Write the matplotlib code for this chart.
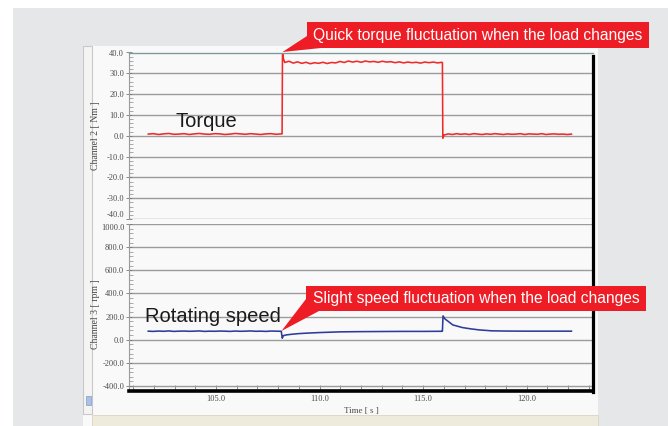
import numpy as np
import matplotlib
matplotlib.use("Agg")
import matplotlib.pyplot as plt
from matplotlib.patches import Rectangle, Polygon
from matplotlib.lines import Line2D
from matplotlib.ticker import MultipleLocator, FormatStrFormatter

# ---- data ----
# torque [Nm], three pieces: before the load, under load, after the load
torque_before_span = (101.73, 108.15)
torque_before = [0.8, 1.0, 0.6, 0.9, 1.1, 0.7, 0.8, 1.0, 0.6, 0.9, 1.1, 0.8, 0.7, 1.0,
                 0.9, 0.6, 0.8, 1.1, 0.9, 0.7, 1.0, 0.8, 0.6, 0.9, 1.0, 0.7, 0.9]
torque_step_t = [108.19, 108.21, 108.26]
torque_step = [0.9, 40.5, 36.8]
torque_load_span = (108.32, 115.90)
torque_load = [35.2, 35.8, 34.9, 35.5, 34.8, 35.3, 34.6, 35.1, 34.8, 35.3, 34.7, 35.2, 35.0,
               35.7, 35.2, 35.9, 35.4, 35.8, 35.3, 35.9, 35.5, 35.7, 35.3, 35.8, 35.4, 35.6,
               35.1, 35.5, 35.0, 35.4, 35.1, 35.3, 34.9, 35.4, 35.1, 35.4, 35.0, 35.3]
torque_drop_t = [115.93, 115.95]
torque_drop = [35.2, -1.2]
torque_after_span = (116.00, 122.16)
torque_after = [0.3, 0.9, 0.6, 1.0, 0.7, 0.9, 0.6, 1.0, 0.8, 0.6, 0.9, 0.7, 1.0, 0.8, 0.6, 0.9,
                0.7, 0.8, 1.0, 0.6, 0.9, 0.8, 0.7, 1.0, 0.6, 0.8, 0.9, 0.7, 0.8, 0.6, 0.8]

# rotating speed [rpm]
speed_before_span = (101.73, 108.15)
speed_before = [74, 72, 75, 73, 76, 72, 74, 75, 73, 74, 76, 72, 74, 73, 75, 74, 72, 75, 73,
                74, 76, 73, 74, 72, 75, 74, 73]
speed_rest_t = [108.2, 108.25, 108.4, 108.7, 109.0, 109.5, 110.0, 110.5, 111.0, 112.0, 113.0,
                114.0, 115.0, 115.9, 115.93, 115.96, 116.05, 116.2, 116.43, 116.9, 117.3,
                117.7, 118.3, 119.0, 120.0, 121.0, 122.16]
speed_rest = [13, 35, 42, 48, 53, 58, 62, 65, 68, 70, 71, 72, 72, 73, 74, 206, 180, 160, 128,
              105, 94, 85, 77, 75, 74, 74, 74]

xlim = (100.8, 123.2)
x_major = [105.0, 110.0, 115.0, 120.0]
torque_ticks = [40, 30, 20, 10, 0, -10, -20, -30, -40]
speed_ticks = [1000, 800, 600, 400, 200, 0, -200, -400]

torque_note = "Quick torque fluctuation when the load changes"
speed_note = "Slight speed fluctuation when the load changes"


def seg_time(span, vals):
    return np.linspace(span[0], span[1], len(vals))


torque_t = np.concatenate([seg_time(torque_before_span, torque_before), torque_step_t,
                           seg_time(torque_load_span, torque_load), torque_drop_t,
                           seg_time(torque_after_span, torque_after)])
torque_v = np.concatenate([torque_before, torque_step, torque_load, torque_drop, torque_after])
speed_t = np.concatenate([seg_time(speed_before_span, speed_before), speed_rest_t])
speed_v = np.concatenate([speed_before, speed_rest])

# ---- figure in pixel coordinates ----
W, H = 668, 426
fig = plt.figure(figsize=(W / 100, H / 100), dpi=100)
fig.patch.set_facecolor("white")


def px(x, y):
    return x / W, 1 - y / H


def rect(x0, y0, x1, y1, z=-10, **kw):
    fig.add_artist(Rectangle(px(x0, y1), (x1 - x0) / W, (y1 - y0) / H,
                             transform=fig.transFigure, zorder=z, **kw))


# page and screenshot background (kept under the axes)
rect(13, 8, 668, 426, facecolor="#e6e7e9", edgecolor="none")
rect(83, 46, 598, 426, facecolor="#f9f9f9", edgecolor="none")
rect(83, 46, 92, 414, facecolor="#f4f4f2", edgecolor="#c8c8c8", lw=0.8)
rect(86, 396, 91, 405, facecolor="#a9c1e3", edgecolor="#7f9cc8", lw=0.5)
rect(92, 415, 598, 426, facecolor="#efebdc", edgecolor="#d9d4c2", lw=0.6)

serif = "Liberation Serif"
tick_col = "#4a4a4a"

ax1 = fig.add_axes([129 / W, 1 - 219 / H, (593 - 129) / W, (219 - 52.5) / H])
ax2 = fig.add_axes([129 / W, 1 - 391 / H, (593 - 129) / W, (391 - 224) / H])

for ax in (ax1, ax2):
    ax.set_facecolor("none")
    ax.set_xlim(*xlim)
    ax.xaxis.set_major_locator(MultipleLocator(5))
    ax.xaxis.set_minor_locator(MultipleLocator(1))
    ax.yaxis.grid(True, color="#9c9c9c", lw=1.0)
    ax.set_axisbelow(True)
    ax.spines["left"].set_color("#9a9a9a")
    ax.spines["left"].set_linewidth(0.8)
    ax.spines["right"].set_visible(False)
    ax.tick_params(axis="y", which="major", direction="inout", length=5, width=0.6,
                   color="#777777", labelsize=6, labelcolor=tick_col, pad=1)
    ax.tick_params(axis="y", which="minor", direction="in", length=3, width=0.5, color="#888888")

ax1.plot(torque_t, torque_v, color="#ee2b2b", lw=1.15)
ax1.set_ylim(-40, 40)
ax1.set_yticks(torque_ticks)
ax1.yaxis.set_minor_locator(MultipleLocator(2))
ax1.yaxis.set_major_formatter(FormatStrFormatter("%.1f"))
ax1.spines["bottom"].set_visible(False)
ax1.spines["top"].set_color("#7f9a9a")
ax1.spines["top"].set_linewidth(1.0)
ax1.tick_params(axis="x", which="both", bottom=False, labelbottom=False)
ax1.set_ylabel("Channel 2 [ Nm ]", family=serif, fontsize=7, color=tick_col)

ax2.plot(speed_t, speed_v, color="#2d3c9c", lw=1.15)
ax2.set_ylim(-443, 1000)
ax2.set_yticks(speed_ticks)
ax2.yaxis.set_minor_locator(MultipleLocator(40))
ax2.yaxis.set_major_formatter(FormatStrFormatter("%.1f"))
ax2.spines["top"].set_visible(False)
ax2.spines["bottom"].set_color("black")
ax2.spines["bottom"].set_linewidth(2.6)
ax2.set_xticks(x_major)
ax2.xaxis.set_major_formatter(FormatStrFormatter("%.1f"))
ax2.tick_params(axis="x", which="both", direction="in", length=4, width=0.6,
                color="#777777", labelsize=6, labelcolor=tick_col, pad=3)
ax2.set_ylabel("Channel 3 [ rpm ]", family=serif, fontsize=7, color=tick_col)
ax2.set_xlabel("Time [ s ]", family=serif, fontsize=6.5, color=tick_col, labelpad=3)

for ax in (ax1, ax2):
    for lab in ax.get_yticklabels() + ax.get_xticklabels():
        lab.set_family(serif)
# the two labels meeting at the panel join sit apart, as in the original
ax1.get_yticklabels()[-1].set_va("bottom")
ax2.get_yticklabels()[0].set_va("top")

ax1.yaxis.set_label_coords(-0.062, 0.5)
ax2.yaxis.set_label_coords(-0.062, 0.46)

# one continuous black frame edge on the right for both channels
fig.add_artist(Line2D([593 / W, 593 / W], [1 - 56 / H, 1 - 392 / H], color="black", lw=2.3,
                      transform=fig.transFigure, zorder=3))

# series names
sans = "Liberation Sans"
fig.text(*px(175, 127), "Torque", family=sans, fontsize=14.5, color="#1a1a1a", va="baseline")
fig.text(*px(145, 322), "Rotating speed", family=sans, fontsize=14.5, color="#1a1a1a",
         va="baseline")

# red callouts
red = "#ee1c24"
renderer = fig.canvas.get_renderer()
note_font = ["Liberation Sans Narrow", "Liberation Sans"]


def callout(box, tail, text):
    x0, y0, x1, y1 = box
    rect(x0, y0, x1, y1, z=5, facecolor=red, edgecolor="none")
    fig.add_artist(Polygon([px(*p) for p in tail], closed=True, transform=fig.transFigure,
                           facecolor=red, edgecolor="none", zorder=5))
    t = fig.text(*px((x0 + x1) / 2, (y0 + y1) / 2 + 0.5), text, family=note_font, fontsize=12,
                 color="white", ha="center", va="center", zorder=6)
    w = t.get_window_extent(renderer).width
    t.set_fontsize(12 * (x1 - x0 - 12) / w)


callout((307, 22, 649, 48), [(282.5, 52), (307, 36), (321, 48)], torque_note)
callout((306, 286, 646, 311), [(281.5, 331), (306, 299), (319, 311)], speed_note)

fig.savefig("out.png", dpi=100)
